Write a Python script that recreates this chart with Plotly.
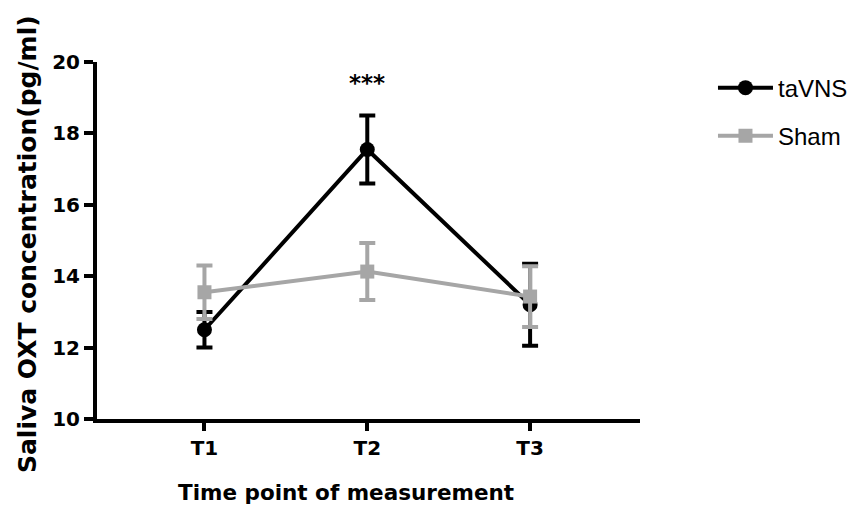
import plotly.graph_objects as go

time_points = ["T1", "T2", "T3"]
x_pos = [1, 2, 3]
tavns_mean = [12.5, 17.55, 13.2]
tavns_err = [0.5, 0.95, 1.15]
sham_mean = [13.55, 14.13, 13.43]
sham_err = [0.75, 0.8, 0.85]
y_ticks = [10, 12, 14, 16, 18, 20]

BLACK = "#000000"
GRAY = "#a6a6a6"
BOLD = "DejaVu Sans"
REG = "Liberation Sans, Arial, sans-serif"

fig = go.Figure()
fig.add_trace(go.Scatter(
    x=x_pos, y=tavns_mean, name="taVNS", mode="lines+markers",
    line=dict(color=BLACK, width=4),
    marker=dict(symbol="circle", size=15, color=BLACK),
    error_y=dict(type="data", array=tavns_err, color=BLACK, thickness=4, width=8),
    legendgroup="a",
))
fig.add_trace(go.Scatter(
    x=x_pos, y=sham_mean, name="Sham", mode="lines+markers",
    line=dict(color=GRAY, width=4),
    marker=dict(symbol="square", size=14, color=GRAY),
    error_y=dict(type="data", array=sham_err, color=GRAY, thickness=4, width=8),
    legendgroup="b",
))

fig.add_annotation(x=2, y=19.4, text="<b>***</b>", showarrow=False,
                   font=dict(size=23, color=BLACK, family=BOLD))
fig.add_annotation(xref="paper", yref="paper", x=0.4586, y=-0.207,
                   xanchor="center", yanchor="middle", showarrow=False,
                   text="<b>Time point of measurement</b>",
                   font=dict(size=21.5, color=BLACK, family=BOLD))
fig.add_annotation(xref="paper", yref="paper", x=-0.129, y=0.49,
                   xanchor="center", yanchor="middle", showarrow=False, textangle=-90,
                   text="<b>Saliva OXT concentration(pg/ml)</b>",
                   font=dict(size=25, color=BLACK, family=BOLD))

fig.update_layout(
    width=866, height=525,
    margin=dict(l=89, r=234, t=54, b=114),
    paper_bgcolor="white", plot_bgcolor="white",
    font=dict(family=REG, color=BLACK),
    showlegend=True,
    legend=dict(x=1.1344, y=0.99, xanchor="left", yanchor="top",
                font=dict(size=24, family=REG), tracegroupgap=14, itemwidth=55,
                bgcolor="rgba(0,0,0,0)"),
    xaxis=dict(
        range=[0.34, 3.675], tickmode="array", tickvals=x_pos, ticktext=time_points,
        showline=True, linecolor=BLACK, linewidth=4, ticks="outside", ticklen=8,
        tickwidth=3.5, tickcolor=BLACK, showgrid=False, zeroline=False,
        tickfont=dict(size=20, family=BOLD, weight="bold"),
    ),
    yaxis=dict(
        range=[10, 20], tickmode="array", tickvals=y_ticks,
        showline=True, linecolor=BLACK, linewidth=4, ticks="outside", ticklen=9,
        tickwidth=3.5, tickcolor=BLACK, showgrid=False, zeroline=False,
        tickfont=dict(size=20, family=BOLD, weight="bold"),
    ),
)

fig.write_html("out.html")
